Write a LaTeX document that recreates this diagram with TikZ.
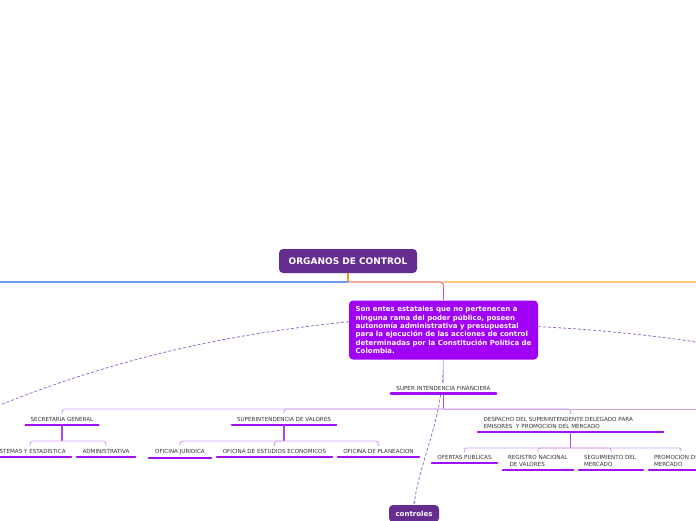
\documentclass[tikz,border=0pt]{standalone}
\usepackage{fontspec}
\setmainfont{DejaVu Sans}
\usepackage{xcolor}
\usetikzlibrary{positioning,arrows.meta,calc,backgrounds}

\definecolor{rootpurple}{HTML}{662D91}
\definecolor{descpurple}{HTML}{A000F5}
\definecolor{barpurple}{HTML}{A010F0}
\definecolor{linkpurple}{HTML}{D3A2F8}
\definecolor{stempurple}{HTML}{AE45F2}
\definecolor{dashpurple}{HTML}{9A6CC4}
\definecolor{lineblue}{HTML}{6F9CF2}
\definecolor{lineorange}{HTML}{F7941D}
\definecolor{linesalmon}{HTML}{E8836F}
\definecolor{lineyellow}{HTML}{FDC87A}
\definecolor{topictext}{HTML}{333333}

\begin{document}
\begin{tikzpicture}[
		x=1pt, y=-1pt,
		rootbox/.style={
			fill=rootpurple,
			text=white,
			rounded corners=4pt,
			inner sep=0pt,
			minimum height=24pt,
			font=\bfseries\fontsize{9}{11}\selectfont
		},
		descbox/.style={
			fill=descpurple,
			text=white,
			rounded corners=4pt,
			align=left,
			minimum width=189pt,
			minimum height=59pt,
			font=\bfseries\fontsize{7}{8.4}\selectfont
		},
		topic/.style={
			anchor=north,
			inner xsep=5pt,
			inner ysep=3.2pt,
			text=topictext,
			font=\fontsize{5.6}{7}\selectfont,
			append after command={(\tikzlastnode.south west) edge[bar] (\tikzlastnode.south east)}
		},
		bar/.style={draw=barpurple, line width=2.4pt, line cap=round},
		branch/.style={draw=#1, line width=1.4pt},
		link/.style={draw=linkpurple, line width=0.9pt},
		stem/.style={draw=stempurple, line width=1.3pt},
		relation/.style={draw=dashpurple, line width=0.8pt, dash pattern=on 3pt off 2pt}
		]
		\useasboundingbox (0,0) rectangle (696,520);
		\clip (0,0) rectangle (696,520);
		
		% Root topic
		\node[rootbox, minimum width=138pt] (root) at (348,261) {ORGANOS DE CONTROL};
		
		% Description
		\node[descbox] (desc) at (443.5,330) {
			Son entes estatales que no pertenecen a\\
			ninguna rama del poder público, poseen\\
			autonomía administrativa y presupuestal\\
			para la ejecución de las acciones de control\\
			determinadas por la Constitución Política de\\
			Colombia.
		};
		
		% Floating topic
		\node[rootbox, minimum width=50pt, minimum height=17pt,
			font=\bfseries\fontsize{7}{8}\selectfont] (controles) at (414,513.5) {controles};
		
		% Main branch
		\node[topic, fill=white, minimum width=105pt] (superfin) at (443.5,382.5) {SUPER INTENDENCIA FINANCIERA};
		
		% Sub-branches
		\node[topic, minimum width=72pt] (secgen) at (62,414.2) {SECRETARIA GENERAL};
		\node[topic, minimum width=104pt] (valores) at (284,414.2) {SUPERINTENDENCIA DE VALORES};
		\node[topic, text width=174pt, align=left, inner xsep=5.5pt] (despacho) at (570.5,414.2) {
			\mbox{DESPACHO DEL SUPERINTENDENTE DELEGADO PARA}\\
			\mbox{EMISORES\ \ Y PROMOCION DEL MERCADO}
		};
		
		% Leaves
		\node[topic, minimum width=82pt] (sistemas) at (30,446.2) {SISTEMAS Y ESTADISTICA};
		\node[topic, minimum width=58pt] (admin) at (106,446.2) {ADMINISTRATIVA};
		\node[topic, minimum width=62pt] (juridica) at (180,446.2) {OFICINA JURIDICA};
		\node[topic, minimum width=115pt] (estudios) at (274.5,446.2) {OFICINA DE ESTUDIOS ECONOMICOS};
		\node[topic, minimum width=81pt] (planeacion) at (378.5,446.2) {OFICINA DE PLANEACION};
		\node[topic, minimum width=65pt] (ofertas) at (464.5,452.2) {OFERTAS PUBLICAS};
		\node[topic, text width=60pt, align=left] (registro) at (538,452.2) {\mbox{REGISTRO NACIONAL}\\\hspace*{1.5pt}DE VALORES};
		\node[topic, text width=54pt, align=left] (seguimiento) at (611,452.2) {\mbox{SEGUIMIENTO DEL}\\MERCADO};
		\node[topic, text width=54pt, align=left] (promocion) at (681,452.2) {\mbox{PROMOCION DEL}\\MERCADO};
		
		% Root lines
		\coordinate (rootj) at (348,282);
		\coordinate (descj) at (desc.north |- rootj);
		\coordinate (westend) at (0,282);
		\coordinate (eastend) at (696,282);
		\draw[branch=lineorange] (root.south) -- (rootj);
		\draw[branch=lineblue] (rootj) -- (westend);
		\draw[branch=lineyellow] (descj) -- (eastend);
		\draw[branch=linesalmon, rounded corners=3pt] (rootj) -| ($(descj)+(0,6)$);
		\draw[branch=descpurple!70] ($(descj)+(0,6)$) -- (desc.north);
		
		% Main branch lines
		\coordinate (hub) at (443.5,409);
		\coordinate (hubend) at (696,409);
		\draw[link, draw=linkpurple!80] (desc.south) -- (superfin.north);
		\draw[stem] (superfin.south) -- (hub);
		\foreach \sub in {secgen,valores,despacho}
			\draw[link, rounded corners=3pt] (hub) -| (\sub.north);
		\draw[link] (hub) -- (hubend);
		
		% Leaf brackets
		\coordinate (secj) at (62,441);
		\coordinate (valj) at (284,441);
		\coordinate (despj) at (570.5,448);
		\draw[stem] (secgen.south) -- (secj);
		\draw[stem] (valores.south) -- (valj);
		\draw[stem, line width=1.8pt] (despacho.south) -- (despj);
		\foreach \leaf in {sistemas,admin}
			\draw[link, rounded corners=3pt] (secj) -| (\leaf.north);
		\foreach \leaf in {juridica,estudios,planeacion}
			\draw[link, rounded corners=3pt] (valj) -| (\leaf.north);
		\foreach \leaf in {ofertas,registro,seguimiento,promocion}
			\draw[link, rounded corners=2pt] (despj) -| (\leaf.north);
		
		% Relations
		\coordinate (westrel) at (0,405);
		\coordinate (eastrel) at (696,342);
		\begin{scope}[on background layer]
			\draw[relation] (desc.175) .. controls (229,334) and (120,357) .. (westrel);
			\draw[relation] (desc.2) .. controls (590,329) and (650,335) .. (eastrel);
			\draw[relation, -{Latex[length=3pt]}] (desc.south) .. controls (443,420) and (420,460) .. (controles.north);
		\end{scope}
		
	\end{tikzpicture}
\end{document}
